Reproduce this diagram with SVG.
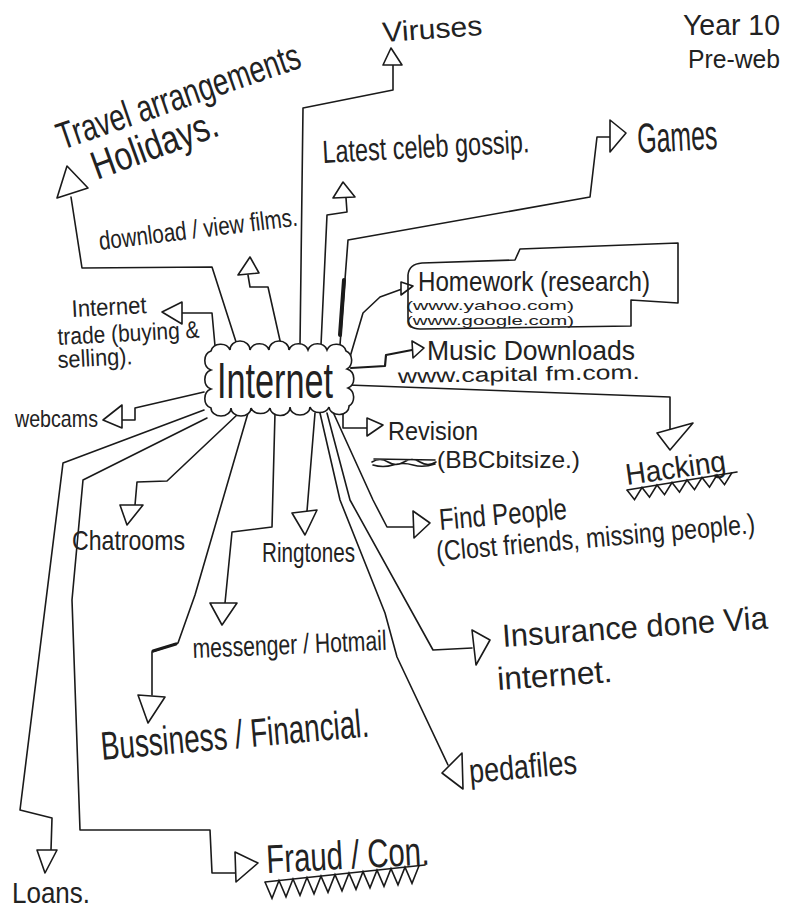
<svg xmlns="http://www.w3.org/2000/svg" width="793" height="912" viewBox="0 0 793 912">
<style>
  .t{font-family:"Liberation Sans",Arial,sans-serif;fill:#222;}
  .ln{fill:none;stroke:#1a1a1a;stroke-width:1.6;stroke-linejoin:round;stroke-linecap:round;}
  .thick{fill:none;stroke:#1a1a1a;stroke-width:4;stroke-linecap:round;}
  .tri{fill:#fff;stroke:#1a1a1a;stroke-width:1.6;stroke-linejoin:round;}
  .zz{fill:none;stroke:#1a1a1a;stroke-width:1.6;stroke-linejoin:miter;}
</style>
<rect width="793" height="912" fill="#fff"/>

<g id="connectors">
  <!-- Viruses -->
  <path class="ln" d="M300,346 L303,108 L393,90 L393,65"/>
  <polygon class="tri" points="383,65 402,65 391,48"/>
  <!-- Travel -->
  <path class="ln" d="M237,345 L212,267 L82,268 L71,197"/>
  <polygon class="tri" points="57,198 88,188 67,166"/>
  <!-- Download films -->
  <path class="ln" d="M281,345 L268,287 L250,287 L248,275"/>
  <polygon class="tri" points="238,275 259,273 250,257"/>
  <!-- Latest celeb gossip -->
  <path class="ln" d="M321,345 L327,215 L347,212 L346,198"/>
  <polygon class="tri" points="333,198 355,197 343,182"/>
  <!-- Games -->
  <path class="ln" d="M340,345 L348,240 L590,197 L597,137 L610,137"/>
  <path class="thick" d="M340,335 L344,280"/>
  <polygon class="tri" points="610,120 610,152 626,133"/>
  <!-- Homework -->
  <path class="ln" d="M350,357 L363,313 L380,297 L402,289"/>
  <polygon class="tri" points="401,282 401,295 413,286"/>
  <!-- Music Downloads -->
  <path class="ln" d="M351,368 L385,366 L386,355 L412,350" style="stroke-width:2.2"/>
  <polygon class="tri" points="412,341 413,358 424,348"/>
  <!-- Hacking -->
  <path class="ln" d="M348,385 L670,397 L670,432"/>
  <polygon class="tri" points="657,433 693,423 670,450"/>
  <!-- Revision -->
  <path class="ln" d="M343,407 L343,428 L367,428"/>
  <polygon class="tri" points="367,418 367,436 383,425"/>
  <!-- Find People -->
  <path class="ln" d="M333,412 L373,500 L387,527 L413,527"/>
  <polygon class="tri" points="413,511 414,538 430,523"/>
  <!-- Insurance -->
  <path class="ln" d="M327,413 L350,500 L433,650 L472,648"/>
  <polygon class="tri" points="472,630 476,665 490,640"/>
  <!-- Pedafiles -->
  <path class="ln" d="M320,413 L340,500 L385,613 L397,657 L448,765"/>
  <polygon class="tri" points="462,753 463,789 442,773"/>
  <!-- Ringtones -->
  <path class="ln" d="M315,413 L307,511"/>
  <polygon class="tri" points="292,513 317,510 305,535"/>
  <!-- messenger / Hotmail -->
  <path class="ln" d="M275,413 L272,527 L232,532 L225,603"/>
  <polygon class="tri" points="210,603 237,603 222,625"/>
  <!-- Business / Financial -->
  <path class="ln" d="M248,413 L195,595 L178,643 L152,652 L152,695"/>
  <path class="thick" style="stroke-width:3" d="M153,651 L176,644"/>
  <polygon class="tri" points="138,695 165,697 148,723"/>
  <!-- Chatrooms -->
  <path class="ln" d="M238,414 L167,481 L137,482 L135,505"/>
  <polygon class="tri" points="120,505 143,505 127,525"/>
  <!-- webcams -->
  <path class="ln" d="M204,392 L135,408 L135,420 L122,420"/>
  <polygon class="tri" points="122,405 122,428 103,420"/>
  <!-- Internet trade -->
  <path class="ln" d="M215,346 L212,313 L182,313"/>
  <polygon class="tri" points="182,302 182,324 162,312"/>
  <!-- Loans -->
  <path class="ln" d="M204,410 L63,463 L20,810 L52,818 L51,850"/>
  <polygon class="tri" points="37,850 57,850 45,873"/>
  <!-- Fraud / Con -->
  <path class="ln" d="M207,418 L83,480 L72,600 L80,830 L210,830 L212,873 L235,873"/>
  <polygon class="tri" points="235,852 236,882 258,863"/>
</g>

<g id="internet">
  <path d="M211,351 a10,9 0 0 1 19,-1 a10,9 0 0 1 20,0 a10,9 0 0 1 19,0 a10,9 0 0 1 20,0 a10,9 0 0 1 19,0 a10,9 0 0 1 19,0 a10,9 0 0 1 19,1 a9,10 0 0 1 1,18 a9,10 0 0 1 1,19 a9,10 0 0 1 1,18 a10,8 0 0 1 -20,1 a10,8 0 0 1 -19,0 a10,8 0 0 1 -20,0 a10,8 0 0 1 -20,1 a10,8 0 0 1 -19,0 a10,8 0 0 1 -20,0 a10,8 0 0 1 -20,0 a9,10 0 0 1 0,-19 a9,10 0 0 1 0,-19 a9,10 0 0 1 0,-19 Z" fill="#fff" stroke="#1a1a1a" stroke-width="1.6"/>
  <text class="t" x="217" y="398" font-size="50" textLength="116" lengthAdjust="spacingAndGlyphs">Internet</text>
</g>

<g id="year">
  <text class="t" x="683" y="35" font-size="29" textLength="97" lengthAdjust="spacingAndGlyphs">Year 10</text>
  <text class="t" x="688" y="68" font-size="25" textLength="92" lengthAdjust="spacingAndGlyphs">Pre-web</text>
</g>

<g id="viruses">
  <text class="t" x="383" y="42" font-size="28" textLength="100" lengthAdjust="spacingAndGlyphs" transform="rotate(-4 383 42)">Viruses</text>
</g>

<g id="travel">
  <text class="t" x="62" y="150" font-size="38" textLength="255" lengthAdjust="spacingAndGlyphs" transform="rotate(-19 62 150)">Travel arrangements</text>
  <text class="t" x="97" y="180" font-size="40" textLength="132" lengthAdjust="spacingAndGlyphs" transform="rotate(-20 97 180)">Holidays.</text>
</g>

<g id="films">
  <text class="t" x="100" y="250" font-size="26" textLength="200" lengthAdjust="spacingAndGlyphs" transform="rotate(-7 100 250)">download / view films.</text>
</g>

<g id="celeb">
  <text class="t" x="323" y="163" font-size="32" textLength="207" lengthAdjust="spacingAndGlyphs" transform="rotate(-3 323 163)">Latest celeb gossip.</text>
</g>

<g id="games">
  <text class="t" x="638" y="153" font-size="42" textLength="80" lengthAdjust="spacingAndGlyphs" transform="rotate(-3 638 153)">Games</text>
</g>

<g id="homework">
  <path class="ln" d="M678,243 L678,303 L631,300 L631,326 L420,329 Q408,329 408,318 L408,275 Q409,264 422,263 L515,260 L520,249 Z"/>
  <text class="t" x="418" y="291" font-size="28" textLength="232" lengthAdjust="spacingAndGlyphs">Homework (research)</text>
  <text class="t" x="406" y="310" font-size="13" textLength="168" lengthAdjust="spacingAndGlyphs">(www.yahoo.com)</text>
  <text class="t" x="406" y="325" font-size="13" textLength="168" lengthAdjust="spacingAndGlyphs">(www.google.com)</text>
</g>

<g id="music">
  <text class="t" x="427" y="360" font-size="28" textLength="208" lengthAdjust="spacingAndGlyphs">Music Downloads</text>
  <text class="t" x="398" y="383" font-size="20" textLength="242" lengthAdjust="spacingAndGlyphs" transform="rotate(-1 398 383)">www.capital fm.com.</text>
</g>

<g id="revision">
  <text class="t" x="388" y="440" font-size="26" textLength="90" lengthAdjust="spacingAndGlyphs">Revision</text>
  <path class="ln" d="M372,462 q8,-5 16,0 t16,0 t16,0 t16,0 M374,459 L435,460 M373,465 q10,3 20,0 t20,0 t22,-1"/>
  <text class="t" x="437" y="468" font-size="24" textLength="143" lengthAdjust="spacingAndGlyphs">(BBCbitsize.)</text>
</g>

<g id="hacking">
  <text class="t" x="627" y="485" font-size="30" textLength="101" lengthAdjust="spacingAndGlyphs" transform="rotate(-8 627 485)">Hacking</text>
  <path class="ln" d="M627,490 L737,472"/>
  <polyline class="zz" points="627,490 634.5,499.7 642,487.5 649.5,497.2 657,485 664.5,494.7 672,482.5 679.5,492.2 687,480 694.5,489.7 702,477.5 709.5,487.2 717,475 724.5,484.7 732,472.5"/>
</g>

<g id="findpeople">
  <text class="t" x="440" y="530" font-size="30" textLength="128" lengthAdjust="spacingAndGlyphs" transform="rotate(-5 440 530)">Find People</text>
  <text class="t" x="437" y="561" font-size="28" textLength="320" lengthAdjust="spacingAndGlyphs" transform="rotate(-5 437 561)">(Clost friends, missing people.)</text>
</g>

<g id="insurance">
  <text class="t" x="503" y="647" font-size="32" textLength="266" lengthAdjust="spacingAndGlyphs" transform="rotate(-4 503 647)">Insurance done Via</text>
  <text class="t" x="498" y="690" font-size="32" textLength="115" lengthAdjust="spacingAndGlyphs" transform="rotate(-4 498 690)">internet.</text>
</g>

<g id="pedafiles">
  <text class="t" x="470" y="783" font-size="34" textLength="108" lengthAdjust="spacingAndGlyphs" transform="rotate(-5 470 783)">pedafiles</text>
</g>

<g id="trade">
  <text class="t" x="72" y="317" font-size="24" textLength="75" lengthAdjust="spacingAndGlyphs" transform="rotate(-3 72 317)">Internet</text>
  <text class="t" x="58" y="345" font-size="24" textLength="142" lengthAdjust="spacingAndGlyphs" transform="rotate(-3 58 345)">trade (buying &amp;</text>
  <text class="t" x="58" y="368" font-size="24" textLength="75" lengthAdjust="spacingAndGlyphs" transform="rotate(-3 58 368)">selling).</text>
</g>

<g id="webcams">
  <text class="t" x="15" y="427" font-size="24" textLength="83" lengthAdjust="spacingAndGlyphs">webcams</text>
</g>

<g id="chatrooms">
  <text class="t" x="72" y="550" font-size="28" textLength="113" lengthAdjust="spacingAndGlyphs">Chatrooms</text>
</g>

<g id="ringtones">
  <text class="t" x="262" y="562" font-size="28" textLength="93" lengthAdjust="spacingAndGlyphs">Ringtones</text>
</g>

<g id="messenger">
  <text class="t" x="193" y="658" font-size="28" textLength="194" lengthAdjust="spacingAndGlyphs" transform="rotate(-2.4 193 658)">messenger / Hotmail</text>
</g>

<g id="business">
  <text class="t" x="102" y="760" font-size="40" textLength="269" lengthAdjust="spacingAndGlyphs" transform="rotate(-5 102 760)">Bussiness / Financial.</text>
</g>

<g id="loans">
  <text class="t" x="12" y="903" font-size="30" textLength="78" lengthAdjust="spacingAndGlyphs">Loans.</text>
</g>

<g id="fraud">
  <text class="t" x="267" y="873" font-size="40" textLength="163" lengthAdjust="spacingAndGlyphs" transform="rotate(-3 267 873)">Fraud / Con.</text>
  <path class="ln" d="M265,882 L425,865"/>
  <polyline class="zz" points="265,882 272,898.3 279,880.5 286,896.8 293,879 300,895.3 307,877.5 314,893.8 321,876.1 328,892.3 335,874.6 342,890.8 349,873.1 356,889.4 363,871.6 370,887.9 377,870.1 384,886.4 391,868.6 398,884.9 405,867.2 412,883.4 419,865.7"/>
</g>
</svg>
